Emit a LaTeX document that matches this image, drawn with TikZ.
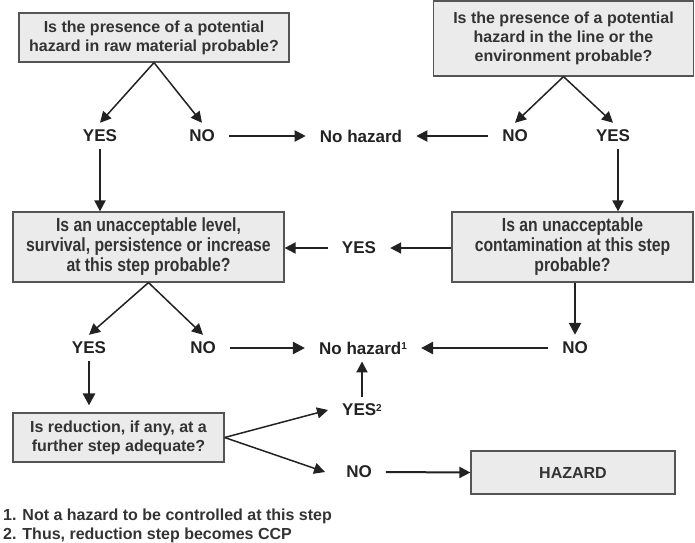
\documentclass[tikz,border=0pt]{standalone}
\usepackage{fontspec}
\setmainfont{Liberation Sans}
\newfontfamily\narrowbf[FakeStretch=0.83]{Liberation Sans}
\usetikzlibrary{arrows.meta}
\definecolor{boxfill}{HTML}{EBEBEB}
\definecolor{boxline}{HTML}{555555}
\definecolor{boxtext}{HTML}{333333}
\definecolor{lbl}{HTML}{222222}
\newcommand{\supnum}[1]{\raisebox{4.5pt}{\fontsize{10}{10}\selectfont #1}}
\begin{document}
\begin{tikzpicture}[x=1pt,y=-1pt,
  qbox/.style={draw=boxline, line width=1.2pt, fill=boxfill, text=boxtext,
    font=\fontsize{16}{19}\selectfont\bfseries, align=center, inner sep=0pt},
  nbox/.style={qbox, font=\fontsize{19}{20}\selectfont\narrowbf\bfseries},
  lab/.style={text=lbl, font=\fontsize{17}{20}\selectfont\bfseries, inner xsep=14pt, inner ysep=7pt},
  arr/.style={-{Triangle[length=11pt,width=11pt]}, line width=1.5pt, draw=lbl},
  arrm/.style={arr, line width=2pt},
  arrt/.style={-{Triangle[length=12pt,width=12pt]}, draw=lbl, line width=2.6pt},
  note/.style={anchor=west, text=boxtext, font=\fontsize{16}{19}\selectfont\bfseries, inner sep=0pt}
]
\useasboundingbox (0,0) rectangle (695,542);

% boxes
\node[qbox, minimum width=270pt, minimum height=49pt] (b1) at (154,37.5)
  {Is the presence of a potential\\hazard in raw material probable?};
\node[qbox, minimum width=260pt, minimum height=75pt] (b2) at (563.5,38.5)
  {Is the presence of a potential\\hazard in the line or the\\environment probable?};
\node[nbox, minimum width=271pt, minimum height=70pt] (b3) at (148.5,247)
  {Is an unacceptable level,\\survival, persistence or increase\\at this step probable?};
\node[nbox, minimum width=241pt, minimum height=70pt] (b4) at (572.5,247)
  {Is an unacceptable\\contamination at this step\\probable?};
\node[qbox, minimum width=211pt, minimum height=49pt] (b5) at (118.5,437.5)
  {Is reduction, if any, at a\\further step adequate?};
\node[qbox, minimum width=204pt, minimum height=43pt] (hz) at (573,472.5) {HAZARD};

% labels
\node[lab] (y1) at (100,136) {YES};
\node[lab] (n1) at (202,136) {NO};
\node[lab] (nh1) at (361,136) {No hazard};
\node[lab] (n2) at (515,136) {NO};
\node[lab] (y2) at (613,136) {YES};
\node[lab] (y3) at (359,248) {YES};
\node[lab] (y4) at (89,348) {YES};
\node[lab] (n3) at (203,348) {NO};
\node[lab] (nh2) at (363,348) {No hazard\supnum{1}};
\node[lab] (n4) at (575,348) {NO};
\node[lab] (y5) at (362,410) {YES\supnum{2}};
\node[lab] (n5) at (359,472) {NO};

% row 1
\draw[arr] (b1.south) -- (y1.north);
\draw[arr] (b1.south) -- (n1.north);
\draw[arrm] (n1.east) -- (nh1.west);
\draw[arrm] (n2.west) -- (nh1.east);
\draw[arr] (b2.south) -- (n2.north);
\draw[arr] (b2.south) -- (y2.north);
\draw[arrm] (y1.south) -- (y1.south |- b3.north);
\draw[arrm] ([xshift=5pt]y2.south) -- ([xshift=5pt]y2.south |- b4.north);

% middle
\draw[arrm] (b4.west |- y3.east) -- (y3.east);
\draw[arrm] (y3.west) -- (b3.east |- y3.west);

% row 3
\draw[arr] (b3.south) -- (y4.north);
\draw[arr] (b3.south) -- (n3.north);
\draw[arrt] (n3.east) -- (nh2.west);
\draw[arrt] (n4.west) -- (nh2.east);
\draw[arrt] (n4.north |- b4.south) -- (n4.north);
\draw[arrt, shorten >=7pt] (y4.south) -- (y4.south |- b5.north);
\draw[arrm] (y5.north) -- (y5.north |- nh2.south);

% row 4
\draw[arr] (b5.east) -- (y5.west);
\draw[arr] (b5.east) -- ([xshift=-7pt]n5.west);
\draw[arrm] (n5.east) -- (hz.west);

% notes
\node[note] (f1) at (3,516) {1. Not a hazard to be controlled at this step};
\node[note] (f2) at (3,535) {2. Thus, reduction step becomes CCP};
\end{tikzpicture}
\end{document}
